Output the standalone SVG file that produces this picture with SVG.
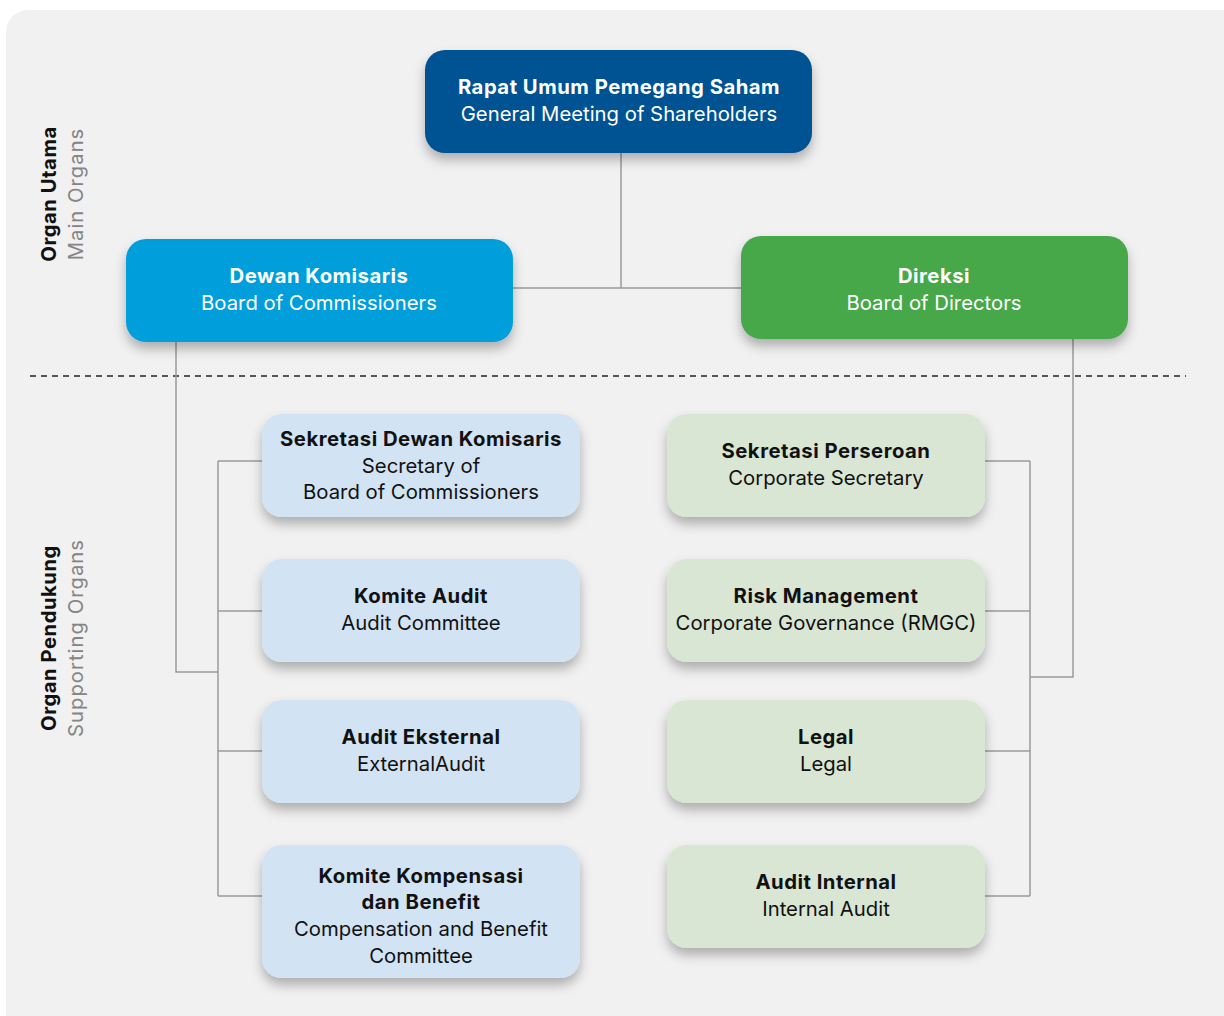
<svg xmlns="http://www.w3.org/2000/svg" width="1224" height="1016" viewBox="0 0 1224 1016">
<defs>
<filter id="sh" x="-10%" y="-20%" width="120%" height="160%">
<feDropShadow dx="0" dy="7" stdDeviation="6" flood-color="#000" flood-opacity="0.28"/>
</filter>
<style>
text{font-family:Inter,"Noto Sans","Liberation Sans",sans-serif;font-size:20.3px;text-anchor:middle}
.b{font-weight:700;letter-spacing:0.5px}
.w{fill:#ffffff}
.k{fill:#111111}
.g{fill:#858585;letter-spacing:1px}
.c{fill:none;stroke:#9a9a9a;stroke-width:1.5}
.l1{fill:#d2e3f3}
.l2{fill:#d9e6d3}
</style>
</defs>
<rect x="0" y="0" width="1224" height="1016" fill="#ffffff"/>
<rect x="6" y="10" width="1240" height="1030" rx="22" fill="#f1f1f1"/>
<g id="labels">
<text class="b k" transform="translate(56,194) rotate(-90)">Organ Utama</text>
<text class="g" transform="translate(83,194) rotate(-90)">Main Organs</text>
<text class="b k" transform="translate(56,638) rotate(-90)">Organ Pendukung</text>
<text class="g" transform="translate(83,638) rotate(-90)">Supporting Organs</text>
</g>
<line x1="30" y1="376" x2="1186" y2="376" stroke="#222" stroke-width="1.4" stroke-dasharray="6,5"/>
<g id="connectors">
<path class="c" d="M621,153 V288 M513,288 H741"/>
<path class="c" d="M176,342 V672 H218"/>
<path class="c" d="M218,461 V896 M218,461 H262 M218,611 H262 M218,751 H262 M218,896 H262"/>
<path class="c" d="M1073,339 V677 H1030"/>
<path class="c" d="M1030,461 V896 M985,461 H1030 M985,611 H1030 M985,751 H1030 M985,896 H1030"/>
</g>
<g id="rups">
<rect x="425" y="50" width="387" height="103" rx="20" fill="#005293" filter="url(#sh)"/>
<text class="b w" x="619" y="94">Rapat Umum Pemegang Saham</text>
<text class="w" x="619" y="121">General Meeting of Shareholders</text>
</g>
<g id="dewan">
<rect x="126" y="239" width="387" height="103" rx="20" fill="#009fdb" filter="url(#sh)"/>
<text class="b w" x="319" y="283">Dewan Komisaris</text>
<text class="w" x="319" y="310">Board of Commissioners</text>
</g>
<g id="direksi">
<rect x="741" y="236" width="387" height="103" rx="20" fill="#46a84a" filter="url(#sh)"/>
<text class="b w" x="934" y="283">Direksi</text>
<text class="w" x="934" y="310">Board of Directors</text>
</g>
<g id="sek-dewan">
<rect class="l1" x="262" y="414" width="318" height="103" rx="20" filter="url(#sh)"/>
<text class="b k" x="421" y="446">Sekretasi Dewan Komisaris</text>
<text class="k" x="421" y="473">Secretary of</text>
<text class="k" x="421" y="499">Board of Commissioners</text>
</g>
<g id="komite-audit">
<rect class="l1" x="262" y="559" width="318" height="103" rx="20" filter="url(#sh)"/>
<text class="b k" x="421" y="603">Komite Audit</text>
<text class="k" x="421" y="630">Audit Committee</text>
</g>
<g id="audit-eksternal">
<rect class="l1" x="262" y="700" width="318" height="103" rx="20" filter="url(#sh)"/>
<text class="b k" x="421" y="744">Audit Eksternal</text>
<text class="k" x="421" y="771">ExternalAudit</text>
</g>
<g id="komite-kompensasi">
<rect class="l1" x="262" y="845" width="318" height="133" rx="20" filter="url(#sh)"/>
<text class="b k" x="421" y="883">Komite Kompensasi</text>
<text class="b k" x="421" y="909">dan Benefit</text>
<text class="k" x="421" y="936">Compensation and Benefit</text>
<text class="k" x="421" y="963">Committee</text>
</g>
<g id="sek-perseroan">
<rect class="l2" x="667" y="414" width="318" height="103" rx="20" filter="url(#sh)"/>
<text class="b k" x="826" y="458">Sekretasi Perseroan</text>
<text class="k" x="826" y="485">Corporate Secretary</text>
</g>
<g id="rmgc">
<rect class="l2" x="667" y="559" width="318" height="103" rx="20" filter="url(#sh)"/>
<text class="b k" x="826" y="603">Risk Management</text>
<text class="k" x="826" y="630">Corporate Governance (RMGC)</text>
</g>
<g id="legal">
<rect class="l2" x="667" y="700" width="318" height="103" rx="20" filter="url(#sh)"/>
<text class="b k" x="826" y="744">Legal</text>
<text class="k" x="826" y="771">Legal</text>
</g>
<g id="audit-internal">
<rect class="l2" x="667" y="845" width="318" height="103" rx="20" filter="url(#sh)"/>
<text class="b k" x="826" y="889">Audit Internal</text>
<text class="k" x="826" y="916">Internal Audit</text>
</g>
</svg>
